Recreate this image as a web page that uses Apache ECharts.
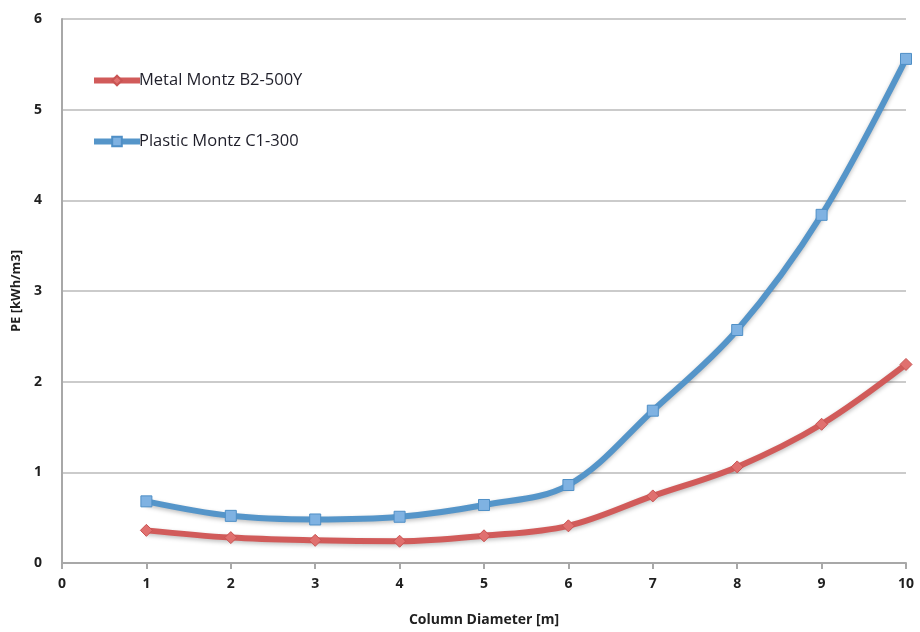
<!DOCTYPE html>
<html>
<head>
<meta charset="utf-8">
<script src="https://cdn.jsdelivr.net/npm/echarts@6/dist/echarts.min.js"></script>
<style>
  html, body { margin: 0; padding: 0; background: #fff; }
  #chart { width: 920px; height: 632px; }
</style>
</head>
<body>
<div id="chart"></div>
<script>
// Column diameter [m]
const diameters = [1, 2, 3, 4, 5, 6, 7, 8, 9, 10];
// Packing energy, kWh/m3
const metalB2 = [0.36, 0.28, 0.25, 0.24, 0.30, 0.41, 0.74, 1.06, 1.53, 2.19];
const plasticC1 = [0.68, 0.52, 0.48, 0.51, 0.64, 0.86, 1.68, 2.57, 3.84, 5.56];
const seriesNames = ['Metal Montz B2-500Y', 'Plastic Montz C1-300'];

const font = '"Open Sans", "Liberation Sans", sans-serif';
const red = '#d15b5a';
const blue = '#5595c9';

const chart = echarts.init(document.getElementById('chart'), null, { renderer: 'canvas' });

function pairs(vals) {
  return diameters.map((d, i) => [d, vals[i]]);
}

chart.setOption({
  animation: false,
  backgroundColor: '#fff',
  grid: { left: 62, right: 14, top: 19, bottom: 68 },
  legend: {
    orient: 'vertical',
    left: 86,
    top: 67,
    itemGap: 44,
    itemWidth: 46,
    itemHeight: 12,
    lineStyle: { width: 6 },
    textStyle: { fontFamily: font, fontSize: 16.5, color: '#1f1f2a', padding: [0, 0, 0, -6] },
    data: seriesNames
  },
  xAxis: {
    type: 'value',
    min: 0, max: 10, interval: 1,
    name: 'Column Diameter [m]',
    nameLocation: 'middle',
    nameGap: 50,
    nameTextStyle: { fontFamily: font, fontSize: 14, fontWeight: 'bold', color: '#1f1f1f' },
    axisLine: { show: true, lineStyle: { color: '#a8a8a8', width: 2 } },
    axisTick: { show: true, length: 6, lineStyle: { color: '#a8a8a8', width: 2 } },
    axisLabel: { fontFamily: font, fontSize: 14, fontWeight: 'bold', color: '#1f1f1f', margin: 14 },
    splitLine: { show: false }
  },
  yAxis: {
    type: 'value',
    min: 0, max: 6, interval: 1,
    name: 'PE [kWh/m3]',
    nameLocation: 'middle',
    nameGap: 38,
    nameTextStyle: { fontFamily: font, fontSize: 13, fontWeight: 'bold', color: '#1f1f1f' },
    axisLine: { show: true, lineStyle: { color: '#a8a8a8', width: 2 } },
    axisTick: { show: false },
    axisLabel: { fontFamily: font, fontSize: 14, fontWeight: 'bold', color: '#1f1f1f', margin: 20 },
    splitLine: { show: true, lineStyle: { color: '#cbcbcb', width: 2 } }
  },
  series: [
    {
      name: seriesNames[0],
      type: 'line',
      data: pairs(metalB2),
      smooth: 0.35,
      symbol: 'diamond',
      symbolSize: 12,
      lineStyle: { color: red, width: 6, shadowColor: 'rgba(0,0,0,0.25)', shadowBlur: 4, shadowOffsetY: 2 },
      itemStyle: { color: '#e0706f', borderColor: '#c95453', borderWidth: 1 },
      z: 3
    },
    {
      name: seriesNames[1],
      type: 'line',
      data: pairs(plasticC1),
      smooth: 0.35,
      symbol: 'rect',
      symbolSize: 11,
      lineStyle: { color: blue, width: 6, shadowColor: 'rgba(0,0,0,0.25)', shadowBlur: 4, shadowOffsetY: 2 },
      itemStyle: { color: '#7fb2e2', borderColor: '#4f8fc6', borderWidth: 1 },
      z: 4
    }
  ]
});
</script>
</body>
</html>
